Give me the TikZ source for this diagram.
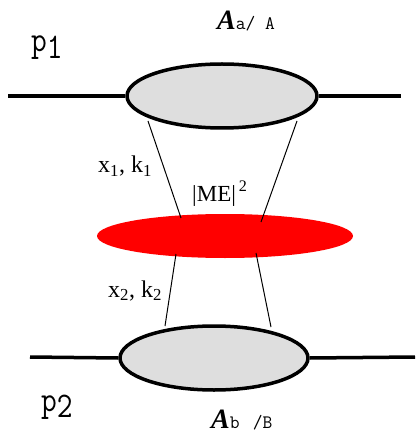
\documentclass[tikz,border=0pt]{standalone}
\usepackage{fontspec}
\setmainfont{Liberation Serif}
\usetikzlibrary{shapes.geometric}
\begin{document}
\begin{tikzpicture}[x=1pt,y=-1pt,
  blob/.style={ellipse,draw=black,line width=3.5pt,fill=black!13,inner sep=0pt},
  thick line/.style={line width=3.5pt},
  thin line/.style={line width=1pt},
  lbl/.style={inner sep=0pt,anchor=base west}]
\useasboundingbox (0,0) rectangle (417,438);
% ellipses
\node[ellipse,fill=red,inner sep=0pt,minimum width=256pt,minimum height=44pt] (me) at (225,236) {};
\node[blob,minimum width=190pt,minimum height=64pt] (top) at (222,96) {};
\node[blob,minimum width=188pt,minimum height=64pt] (bot) at (214,358) {};
% external legs
\coordinate (tl) at (8,96);
\coordinate (tr) at (401,96);
\coordinate (bl) at (30,357);
\coordinate (br) at (415,357);
\draw[thick line] (tl) -- (top.west);
\draw[thick line] (top.east) -- (tr);
\draw[thick line] (bl) -- (bot.west);
\draw[thick line] (bot.east) -- (br);
% thin parton lines
\coordinate (a1) at (148,121);
\coordinate (a2) at (181,218);
\coordinate (b1) at (297,121);
\coordinate (b2) at (261,222);
\coordinate (c1) at (176,254);
\coordinate (c2) at (165,326);
\coordinate (d1) at (256,253);
\coordinate (d2) at (271,327);
\draw[thin line] (a1) -- (a2);
\draw[thin line] (b1) -- (b2);
\draw[thin line] (c1) -- (c2);
\draw[thin line] (d1) -- (d2);
% labels
\node[lbl,xscale=0.85] (p1) at (31,52) {\fontsize{36}{36}\selectfont\ttfamily p\raisebox{-7pt}{1}};
\node[lbl,xscale=0.85] (p2) at (41,411) {\fontsize{36}{36}\selectfont\ttfamily p\raisebox{-6pt}{2}};
\node[lbl] (Aa) at (217,30) {\fontsize{28}{28}\selectfont\textbf{\textit{A}}\fontsize{19}{19}\selectfont\ttfamily a/ A};
\node[lbl] (Ab) at (211,428) {\fontsize{28}{28}\selectfont\textbf{\textit{A}}\fontsize{19}{19}\selectfont\ttfamily b\hspace{0.7em}/B};
\node[lbl] (xk1) at (98,173) {\fontsize{24}{24}\selectfont x$_{\mathrm{1}}$, k$_{\mathrm{1}}$};
\node[lbl] (xk2) at (108,297) {\fontsize{24}{24}\selectfont x$_{\mathrm{2}}$, k$_{\mathrm{2}}$};
\node[lbl] (mel) at (192,201) {\fontsize{23}{23}\selectfont|ME|$^{\,\mathrm{2}}$};
\end{tikzpicture}
\end{document}
